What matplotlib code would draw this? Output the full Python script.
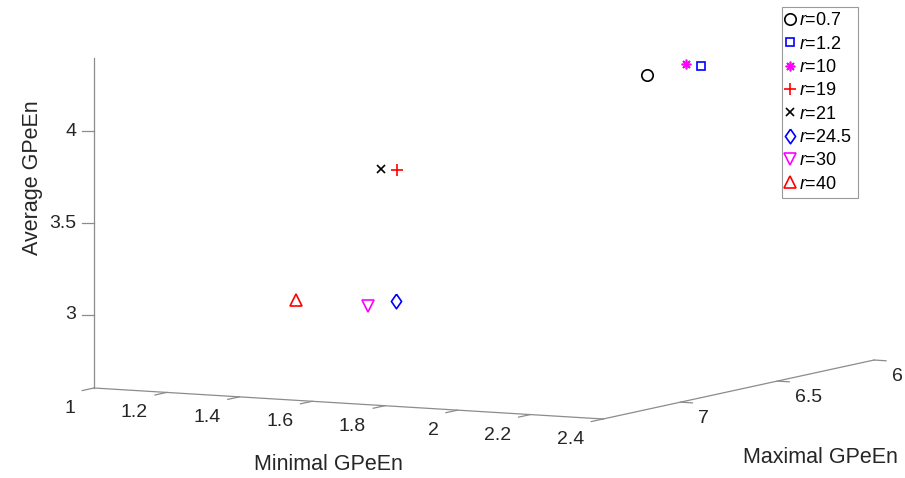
import numpy as np
import matplotlib
matplotlib.use("Agg")
import matplotlib.pyplot as plt
from matplotlib.lines import Line2D
from matplotlib.transforms import IdentityTransform

plt.rcParams["font.family"] = ["Liberation Sans", "DejaVu Sans"]
plt.rcParams["mathtext.fontset"] = "custom"
plt.rcParams["mathtext.it"] = "Liberation Sans:italic"
plt.rcParams["mathtext.rm"] = "Liberation Sans"

# ---- data: one point per r value  ------------------------------------
r_values  = ["0.7", "1.2", "10", "19", "21", "24.5", "30", "40"]
min_gpeen = [2.254, 2.350, 2.282, 1.674, 1.655, 1.723, 1.675, 1.502]
max_gpeen = [6.90, 6.80, 6.75, 7.10, 7.15, 7.20, 7.25, 7.30]
avg_gpeen = [4.344, 4.382, 4.373, 3.802, 3.815, 3.114, 3.096, 3.118]

x_ticks = [1, 1.2, 1.4, 1.6, 1.8, 2, 2.2, 2.4]
y_ticks = [6, 6.5, 7]
z_ticks = [3, 3.5, 4]
x_lim = (1, 2.4)
y_lim = (7.4, 6)      # reversed: larger values toward the viewer
z_lim = (2.6, 4.4)

# ---- marker styles  --------------------------------------------------
diamond = [(0, 1), (0.7, 0), (0, -1), (-0.7, 0), (0, 1)]
markers = ["o", "s", (8, 2, 0), "+", "x", diamond, "v", "^"]
colors  = ["#000000", "#0000ff", "#ff00ff", "#ff0000",
           "#000000", "#0000ff", "#ff00ff", "#ff0000"]
msizes  = [8.2, 6.2, 7, 8.5, 6, 10.5, 9.3, 9.3]

W, H = 905, 478
AXIS_COLOR = "#8c8c8c"
TEXT_COLOR = "#262626"

fig = plt.figure(figsize=(W / 100, H / 100), dpi=100)
ax = fig.add_axes([0.1, 0.0, H / W, 1.0], projection="3d", proj_type="ortho")
ax.view_init(elev=6.61, azim=-62.12)
ax.set_box_aspect((575.9, 579.6, 332.2))
ax.set_xlim(*x_lim)
ax.set_ylim(*y_lim)
ax.set_zlim(*z_lim)
ax.set_axis_off()

for xv, yv, zv, r, mk, c, ms in zip(min_gpeen, max_gpeen, avg_gpeen,
                                    r_values, markers, colors, msizes):
    ax.plot([xv], [yv], [zv], linestyle="none", marker=mk, color=c,
            markerfacecolor="none", markersize=ms, markeredgewidth=1.2,
            label=f"$r$={r}")

# three box edges in the MATLAB style (no full box)
x0, x1 = x_lim
y0, y1 = y_lim
z0, z1 = z_lim
ax.plot([x0, x1], [y0, y0], [z0, z0], color=AXIS_COLOR, lw=0.9)
ax.plot([x1, x1], [y0, y1], [z0, z0], color=AXIS_COLOR, lw=0.9)
ax.plot([x0, x0], [y0, y0], [z0, z1], color=AXIS_COLOR, lw=0.9)


def to_px(x, y, z):
    """3D data point -> display pixels (origin bottom-left)."""
    v = ax.get_proj() @ np.array([x, y, z, 1.0])
    return ax.transData.transform((v[0] / v[3], v[1] / v[3]))


# ---- scale/shift the square axes so the box lands where we want it ---
fig.canvas.draw()
p_org = to_px(x0, y0, z0)
p_x = to_px(x1, y0, z0)
p_z = to_px(x0, y0, z1)
t_org = np.array([94, H - 388])
t_x = np.array([603, H - 419])
t_z = np.array([94, H - 58])
s = 0.5 * (np.linalg.norm(t_x - t_org) / np.linalg.norm(p_x - p_org)
           + np.linalg.norm(t_z - t_org) / np.linalg.norm(p_z - p_org))
bb = ax.get_position()
side = bb.width * W
ctr = np.array([(bb.x0 + bb.width / 2) * W, (bb.y0 + bb.height / 2) * H])
new_side = side * s
new_ctr = t_org - s * (p_org - ctr)
ax.set_position([(new_ctr[0] - new_side / 2) / W,
                 (new_ctr[1] - new_side / 2) / H,
                 new_side / W, new_side / H])
fig.canvas.draw()

ident = IdentityTransform()


def unit(v):
    return v / np.linalg.norm(v)


tick_len = 12
dir_y = unit(to_px(x0, y0, z0) - to_px(x0, y1, z0))   # toward viewer
dir_x = unit(to_px(x1, y0, z0) - to_px(x0, y0, z0))

# x ticks + labels
for t in x_ticks:
    b = to_px(t, y0, z0)
    e = b + tick_len * dir_y
    fig.add_artist(Line2D([b[0], e[0]], [b[1], e[1]], color=AXIS_COLOR,
                          lw=0.9, transform=ident))
    fig.text(b[0] - 19, b[1] - 12, f"{t:g}", transform=ident, ha="right",
             va="top", fontsize=14, color=TEXT_COLOR)

# y ticks + labels
for t in y_ticks:
    b = to_px(x1, t, z0)
    e = b + tick_len * dir_x
    fig.add_artist(Line2D([b[0], e[0]], [b[1], e[1]], color=AXIS_COLOR,
                          lw=0.9, transform=ident))
    fig.text(b[0] + 18, b[1] - 8, f"{t:g}", transform=ident, ha="left",
             va="top", fontsize=14, color=TEXT_COLOR)

# z ticks + labels
for t in z_ticks:
    b = to_px(x0, y0, t)
    fig.add_artist(Line2D([b[0], b[0] - tick_len], [b[1], b[1]],
                          color=AXIS_COLOR, lw=0.9, transform=ident))
    fig.text(b[0] - 18, b[1], f"{t:g}", transform=ident, ha="right",
             va="center", fontsize=14, color=TEXT_COLOR)

# axis labels, offset from the midpoint of each edge
m = 0.5 * (to_px(x0, y0, z0) + to_px(x1, y0, z0))
fig.text(m[0] - 20, m[1] - 61.5, "Minimal GPeEn", transform=ident,
         ha="center", va="center", fontsize=15.5, color=TEXT_COLOR)
m = 0.5 * (to_px(x1, y0, z0) + to_px(x1, y1, z0))
fig.text(m[0] + 82, m[1] - 67.5, "Maximal GPeEn", transform=ident,
         ha="center", va="center", fontsize=15.5, color=TEXT_COLOR)
m = 0.5 * (to_px(x0, y0, z0) + to_px(x0, y0, z1))
fig.text(m[0] - 62, m[1] + 45, "Average GPeEn", transform=ident, rotation=90,
         ha="center", va="center", fontsize=15.5, color=TEXT_COLOR)

leg = fig.legend(*ax.get_legend_handles_labels(), loc="upper left",
                 bbox_to_anchor=(782 / W, 1 - 7 / H), borderaxespad=0,
                 fontsize=13, numpoints=1, handlelength=0.3,
                 handletextpad=0.36, borderpad=0.3, labelspacing=0.35,
                 fancybox=False, framealpha=1, edgecolor="#9a9a9a")
leg.get_frame().set_linewidth(0.8)

fig.savefig("out.png", dpi=100)
